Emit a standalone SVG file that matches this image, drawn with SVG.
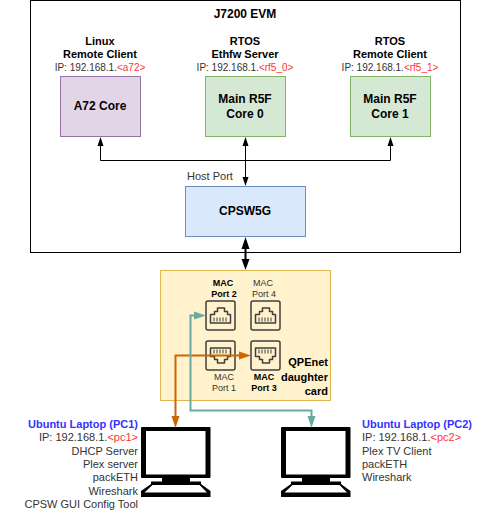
<svg xmlns="http://www.w3.org/2000/svg" width="481" height="513" viewBox="0 0 481 513">
<style>
text{font-family:"Liberation Sans",Arial,sans-serif;font-size:10px;fill:#000;text-anchor:middle}
.b{font-weight:bold;font-size:11px}
.t{font-size:12px;font-weight:bold}
.s{font-size:9px}
.sb{font-size:9px;font-weight:bold}
.r{fill:#ff3333}
.g{fill:#333}
.e{text-anchor:end}
.st{text-anchor:start}
.u{fill:#3333ff;font-weight:bold}
.l{font-size:11px}
.k{stroke:#000;stroke-width:1;fill:none}
.jack{fill:none;stroke:#3f3f3f;stroke-width:1.5;stroke-linejoin:round}
</style>
<defs>
<symbol id="rj" viewBox="0 0 30 30" width="30" height="30" overflow="visible">
<rect class="jack" x="0.500" y="0.500" width="29" height="29" rx="2"/>
<path class="jack" d="M5 22.500V14H9V11H12V7.500H19V11H22V14H25V22.500Z" stroke-width="1"/>
<path d="M8.500 17v4M11.500 17v4M14.500 17v4M17.500 17v4M20.500 17v4" stroke="#3f3f3f" stroke-width="1" fill="none"/>
</symbol>
<symbol id="pc" viewBox="0 0 70 71" width="70" height="71" overflow="visible">
<rect x="0" y="0" width="69.500" height="51" rx="1" fill="#000"/>
<rect x="5" y="4" width="59.500" height="43.500" fill="#fff"/>
<rect x="21" y="50" width="28" height="6" fill="#000"/>
<path d="M10 54.500H60V57L69.500 64V70H0V64L10 57Z" fill="#000"/>
<path d="M11.500 58H58.500L66 65.500H3.500Z" fill="#fff"/>
</symbol>
</defs>
<g id="evm">
<rect x="30.500" y="0.500" width="430" height="252" fill="#fff" stroke="#000"/>
<text class="t" x="245" y="18">J7200 EVM</text>
</g>
<g id="a72">
<rect x="60.500" y="76.500" width="80" height="60" fill="#e1d5e7" stroke="#9673a6"/>
<text class="t" x="100" y="110">A72 Core</text>
<text class="b" x="100" y="45">Linux</text>
<text class="b" x="100" y="58">Remote Client</text>
<text x="100" y="71"><tspan class="g">IP: 192.168.1.</tspan><tspan class="r">&lt;a72&gt;</tspan></text>
</g>
<g id="r5f0">
<rect x="205.500" y="76.500" width="80" height="60" fill="#d5e8d4" stroke="#82b366"/>
<text class="t" x="245" y="103">Main R5F</text>
<text class="t" x="245" y="118">Core 0</text>
<text class="b" x="245" y="45">RTOS</text>
<text class="b" x="245" y="58">Ethfw Server</text>
<text x="245" y="71"><tspan class="g">IP: 192.168.1.</tspan><tspan class="r">&lt;rf5_0&gt;</tspan></text>
</g>
<g id="r5f1">
<rect x="350.500" y="76.500" width="80" height="60" fill="#d5e8d4" stroke="#82b366"/>
<text class="t" x="390" y="103">Main R5F</text>
<text class="t" x="390" y="118">Core 1</text>
<text class="b" x="390" y="45">RTOS</text>
<text class="b" x="390" y="58">Remote Client</text>
<text x="390" y="71"><tspan class="g">IP: 192.168.1.</tspan><tspan class="r">&lt;rf5_1&gt;</tspan></text>
</g>
<g id="cpsw">
<rect x="185.500" y="186.500" width="120" height="50" fill="#dae8fc" stroke="#6c8ebf"/>
<text class="t" x="245" y="215">CPSW5G</text>
<text class="st l g" x="187" y="180">Host Port</text>
</g>
<g id="qpenet">
<rect x="160.500" y="270.500" width="170" height="130" fill="#fff2cc" stroke="#dfb54f"/>
<text class="b e" x="328" y="366">QPEnet</text>
<text class="b e" x="328" y="381">daughter</text>
<text class="b e" x="328" y="395">card</text>
</g>
<g id="port2">
<use href="#rj" x="205.500" y="300.500"/>
<text class="sb" x="223" y="286">MAC</text>
<text class="sb" x="224" y="297">Port 2</text>
</g>
<g id="port4">
<use href="#rj" x="250.500" y="300.500"/>
<text class="s g" x="263" y="286">MAC</text>
<text class="s g" x="264" y="297">Port 4</text>
</g>
<g id="port1">
<use href="#rj" transform="translate(205.500 370.500) scale(1 -1)"/>
<text class="s g" x="224" y="380">MAC</text>
<text class="s g" x="224" y="391">Port 1</text>
</g>
<g id="port3">
<use href="#rj" transform="translate(250.500 370.500) scale(1 -1)"/>
<text class="sb" x="264" y="380">MAC</text>
<text class="sb" x="264" y="391">Port 3</text>
</g>
<g id="pc1">
<use href="#pc" x="141" y="427"/>
<text class="u l e" x="138" y="428">Ubuntu Laptop (PC1)</text>
<text class="e l" x="138" y="441"><tspan class="g">IP: 192.168.1.</tspan><tspan class="r">&lt;pc1&gt;</tspan></text>
<text class="e g l" x="138" y="455">DHCP Server</text>
<text class="e g l" x="138" y="468">Plex server</text>
<text class="e g l" x="138" y="481">packETH</text>
<text class="e g l" x="138" y="495">Wireshark</text>
<text class="e g l" x="138" y="508">CPSW GUI Config Tool</text>
</g>
<g id="pc2">
<use href="#pc" x="281" y="427"/>
<text class="u st l" x="362" y="428">Ubuntu Laptop (PC2)</text>
<text class="st l" x="362" y="441"><tspan class="g">IP: 192.168.1.</tspan><tspan class="r">&lt;pc2&gt;</tspan></text>
<text class="st g l" x="362" y="455">Plex TV Client</text>
<text class="st g l" x="362" y="468">packETH</text>
<text class="st g l" x="362" y="481">Wireshark</text>
</g>
<g id="connectors">
<path class="k" d="M100.500 144V160.500H390.500V144"/>
<path class="k" d="M245.500 144V179"/>
<path d="M100.500 137L103.500 146H97.500Z M245.500 137L248.500 146H242.500Z M390.500 137L393.500 146H387.500Z M245.500 186L242.500 177H248.500Z" fill="#000"/>
<path d="M245.500 245V262" stroke="#000" stroke-width="2" fill="none"/>
<path d="M245.500 237L249.500 249H241.500Z M245.500 270L241.500 259H249.500Z" fill="#000"/>
<path d="M175.500 417V355.500H240" fill="none" stroke="#cc6600" stroke-width="2"/>
<path d="M175.500 428L171.500 416H179.500Z M251 355.500L239 351.500V359.500Z" fill="#cc6600"/>
<path d="M195 315.500H190.500V410.500H311.500V418" fill="none" stroke="#67ab9f" stroke-width="2"/>
<path d="M206 315.500L194 311.500V319.500Z M311.500 428L307.500 416H315.500Z" fill="#67ab9f"/>
</g>
</svg>
